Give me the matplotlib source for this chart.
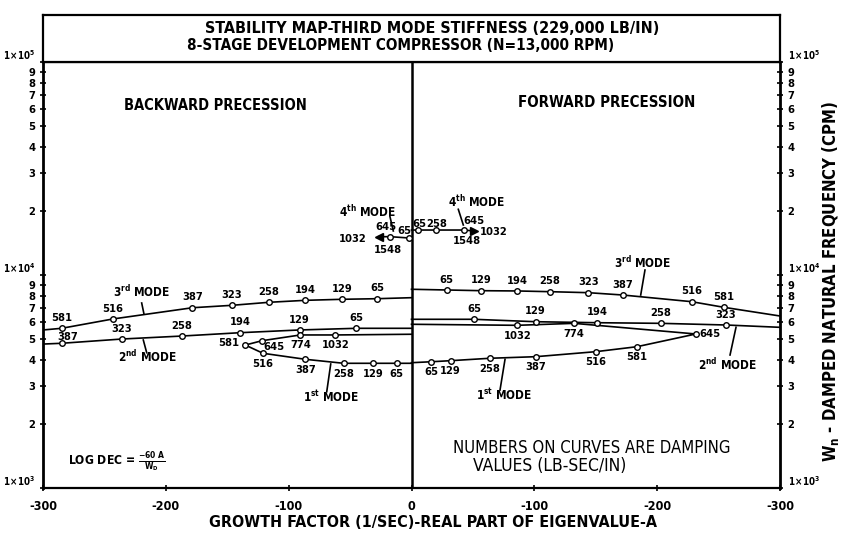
import numpy as np
import matplotlib.pyplot as plt
from matplotlib.ticker import FixedLocator, FixedFormatter

plt.rcParams['font.family'] = 'DejaVu Sans'
plt.rcParams['font.weight'] = 'bold'
plt.rcParams['font.stretch'] = 'condensed'
plt.rcParams['mathtext.default'] = 'bf'

# growth factor A (1/sec), damped natural frequency (CPM), damping (lb-sec/in)
# backward precession
b4_a = [0, -2.2, -17.1, -26.7]
b4_w = [14920, 14920, 15130, 15130]
b4_c = [None, 65, 645, 1032]

b3_a = [-300, -284.8, -243.2, -178.3, -146.2, -116.0, -86.4, -56.5, -28.0, 0]
b3_w = [5520, 5620, 6215, 7020, 7205, 7445, 7605, 7690, 7740, 7825]
b3_c = [None, 581, 516, 387, 323, 258, 194, 129, 65, None]

b2_a = [-300, -284.8, -235.8, -186.7, -139.4, -91.1, -44.8, 0]
b2_w = [4740, 4780, 5005, 5170, 5360, 5520, 5620, 5620]
b2_c = [None, 387, 323, 258, 194, 129, 65, None]

b1_a = [0, -12.2, -31.5, -55.2, -86.4, -120.9, -135.3, -121.7, -90.5, -62.0, 0]
b1_w = [3850, 3850, 3850, 3850, 4020, 4290, 4690, 4915, 5230, 5230, 5270]
b1_c = [None, 65, 129, 258, 387, 516, 581, 645, 774, 1032, None]

# forward precession
f4_a = [0, -5.1, -19.6, -42.6, -50.8]
f4_w = [16260, 16260, 16260, 16260, 16100]
f4_c = [None, 65, 258, 645, 1032]

f3_a = [0, -28.5, -56.8, -86.2, -112.7, -144.0, -172.0, -228.0, -254.1, -300]
f3_w = [8570, 8505, 8440, 8415, 8350, 8260, 8055, 7495, 7055, 6420]
f3_c = [None, 65, 129, 194, 258, 323, 387, 516, 581, None]

f2_a = [0, -50.8, -101.1, -151.4, -203.0, -256.0, -300]
f2_w = [6195, 6195, 6035, 5970, 5930, 5825, 5680]
f2_c = [None, 65, 129, 194, 258, 323, None]

f1_a = [0, -16.1, -31.8, -63.8, -101.1, -150.0, -183.4, -231.5, -132.3, -86.2, 0]
f1_w = [3875, 3915, 3960, 4065, 4135, 4365, 4605, 5285, 5930, 5805, 5870]
f1_c = [None, 65, 129, 258, 387, 516, 581, 645, 774, 1032, None]

x_ticks = [-300, -200, -100, 0, 100, 200, 300]
x_labels = ['-300', '-200', '-100', '0', '-100', '-200', '-300']

UP = (0, 7.5)
DN = (0, -7.5)

fig = plt.figure(figsize=(8.56, 5.39), dpi=100)
ax = fig.add_axes([43 / 856, 51 / 539, 737 / 856, 426 / 539])
ax.set_yscale('log')
ax.set_xlim(-300, 300)
ax.set_ylim(1e3, 1e5)

# title box sitting on top of the plot
tb = fig.add_axes([43 / 856, 477 / 539, 737 / 856, 47 / 539])
tb.set_xticks([])
tb.set_yticks([])
for s in tb.spines.values():
    s.set_linewidth(1.6)
fig.text(0.505, 0.948, 'STABILITY MAP-THIRD MODE STIFFNESS (229,000 LB/IN)',
         ha='center', va='center', fontsize=11.5)
fig.text(0.468, 0.9165, '8-STAGE DEVELOPMENT COMPRESSOR (N=13,000 RPM)',
         ha='center', va='center', fontsize=11)

for side in ['left', 'right']:
    ax.spines[side].set_linewidth(2.0)
for side in ['top', 'bottom']:
    ax.spines[side].set_linewidth(1.6)
ax.axvline(0, color='k', lw=1.8)

# y ticks: decades plus 2..9, labelled on both sides
major = [1e3, 1e4, 1e5]
minor = [m * d for d in [1e3, 1e4] for m in range(2, 10)]
ax.yaxis.set_major_locator(FixedLocator(major))
ax.yaxis.set_major_formatter(FixedFormatter([r'$1\!\times\!10^{3}$', r'$1\!\times\!10^{4}$', r'$1\!\times\!10^{5}$']))
ax.yaxis.set_minor_locator(FixedLocator(minor))
ax.yaxis.set_minor_formatter(FixedFormatter([str(m) for d in [1e3, 1e4] for m in range(2, 10)]))
ax.tick_params(axis='y', which='both', left=True, right=True, labelleft=True, labelright=True,
               direction='inout', length=5, width=1.2, pad=3)
ax.tick_params(axis='y', which='major', labelsize=7)
ax.tick_params(axis='y', which='minor', labelsize=8)
for t in ax.yaxis.get_major_ticks():
    t.label1.set_verticalalignment('bottom')
    t.label2.set_verticalalignment('bottom')

ax.set_xticks(x_ticks)
ax.set_xticklabels(x_labels)
ax.tick_params(axis='x', direction='inout', length=5, width=1.2, labelsize=9, pad=6)


def draw_mode(a, w, c, offs, forward, tip=None):
    x = np.array(a, float)
    if forward:
        x = -x
    ax.plot(x, w, color='k', lw=1.2, zorder=2)
    for i, (xi, wi, ci, off) in enumerate(zip(x, w, c, offs)):
        if ci is None:
            continue
        if tip is not None and i == len(x) - 1:
            ax.plot(xi, wi, marker=tip, ms=6, color='k', zorder=3)
        else:
            ax.plot(xi, wi, 'o', ms=4, mfc='white', mec='k', mew=1.0, zorder=3)
            ax.annotate(str(ci), (xi, wi), xytext=off, textcoords='offset points',
                        ha='center', va='center', fontsize=8)


draw_mode(b3_a, b3_w, b3_c, [None] + [UP] * 8 + [None], False)
draw_mode(b2_a, b2_w, b2_c, [None, (4, 4.5)] + [UP] * 5 + [None], False)
draw_mode(b1_a, b1_w, b1_c,
          [None, DN, DN, DN, DN, DN, (-12, 1.5), (8.5, -4.5), DN, DN, None], False)
draw_mode(f3_a, f3_w, f3_c, [None] + [UP] * 8 + [None], True)
draw_mode(f2_a, f2_w, f2_c, [None] + [UP] * 5 + [None], True)
draw_mode(f1_a, f1_w, f1_c,
          [None, DN, DN, DN, DN, DN, DN, (10, 0), DN, DN, None], True)
draw_mode(b4_a, b4_w, b4_c, [None, (-3.5, 5), (-3.5, 7), None], False, tip='<')
draw_mode(f4_a, f4_w, f4_c, [None, (1, 4.5), (1, 4.5), (7, 6.5), None], True, tip='>')

# double labels at the 4th mode ends
ax.annotate('1032', (b4_a[-1], b4_w[-1]), xytext=(-19, -2), textcoords='offset points',
            ha='center', va='center', fontsize=8)
ax.annotate('1548', (b4_a[-1], b4_w[-1]), xytext=(6.5, -9.5), textcoords='offset points',
            ha='center', va='center', fontsize=8)
ax.annotate('1032', (-f4_a[-1], f4_w[-1]), xytext=(14, -0.5), textcoords='offset points',
            ha='center', va='center', fontsize=8)
ax.annotate('1548', (-f4_a[-1], f4_w[-1]), xytext=(-5, -7.5), textcoords='offset points',
            ha='center', va='center', fontsize=8)

# mode names with leader lines (axes fraction)
modes = [
    (r'3$^{rd}$ MODE', (0.1343, 0.460), (0.1339, 0.4343), (0.137, 0.4085)),
    (r'2$^{nd}$ MODE', (0.1411, 0.3075), (0.1361, 0.3474), (0.1407, 0.3176)),
    (r'1$^{st}$ MODE', (0.3908, 0.2136), (0.3904, 0.2911), (0.385, 0.2261)),
    (r'4$^{th}$ MODE', (0.441, 0.6486), (0.4708, 0.6369), (0.4753, 0.6033)),
    (r'4$^{th}$ MODE', (0.5889, 0.6721), (0.5635, 0.6542), (0.5703, 0.6174)),
    (r'3$^{rd}$ MODE', (0.814, 0.5275), (0.8168, 0.5117), (0.811, 0.453)),
    (r'2$^{nd}$ MODE', (0.928, 0.2887), (0.9403, 0.3772), (0.9322, 0.3122)),
    (r'1$^{st}$ MODE', (0.6255, 0.2183), (0.6269, 0.3021), (0.6201, 0.23)),
]
for txt, pos, p0, p1 in modes:
    ax.text(pos[0], pos[1], txt, transform=ax.transAxes, ha='center', va='center', fontsize=8.5)
    ax.plot([p0[0], p1[0]], [p0[1], p1[1]], transform=ax.transAxes, color='k', lw=1.2)

ax.text(0.2334, 0.899, 'BACKWARD PRECESSION', transform=ax.transAxes,
        ha='center', va='center', fontsize=10.5)
ax.text(0.7653, 0.9038, 'FORWARD PRECESSION', transform=ax.transAxes,
        ha='center', va='center', fontsize=10.8)
ax.text(0.034, 0.059, r'LOG DEC = $\frac{-60\ A}{W_D}$', transform=ax.transAxes,
        ha='left', va='center', fontsize=8.7)
ax.text(0.5563, 0.0939, 'NUMBERS ON CURVES ARE DAMPING', transform=ax.transAxes,
        ha='left', va='center', fontsize=12, fontweight='normal')
ax.text(0.5834, 0.0516, 'VALUES (LB-SEC/IN)', transform=ax.transAxes,
        ha='left', va='center', fontsize=12.5, fontweight='normal')

fig.text(0.506, 0.0315, 'GROWTH FACTOR (1/SEC)-REAL PART OF EIGENVALUE-A',
         ha='center', va='center', fontsize=11.5)
fig.text(0.97, 0.477, r'W$_n$ - DAMPED NATURAL FREQUENCY (CPM)', rotation=90,
         ha='center', va='center', fontsize=12)

fig.savefig('out.png', dpi=100)
